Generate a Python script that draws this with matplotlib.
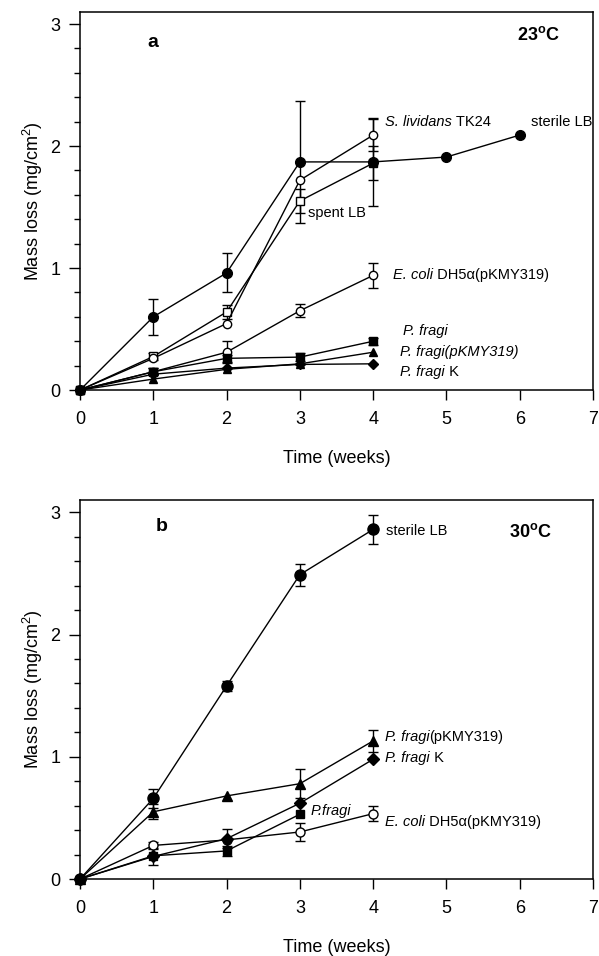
import numpy as np
import matplotlib
matplotlib.use("Agg")
import matplotlib.pyplot as plt
from matplotlib.ticker import MultipleLocator
from matplotlib.transforms import offset_copy

plt.rcParams['font.family'] = ['Liberation Sans', 'DejaVu Sans']
plt.rcParams['mathtext.fontset'] = 'custom'
plt.rcParams['mathtext.rm'] = 'Liberation Sans'
plt.rcParams['mathtext.bf'] = 'Liberation Sans:bold'

# ---- panel a, 23 C ----
a_sterile_t = [0, 1, 2, 3, 4, 5, 6]
a_sterile = [0, 0.60, 0.96, 1.87, 1.87, 1.91, 2.09]
a_sterile_err = [0, 0.15, 0.16, 0.50, 0.36, 0, 0]

a_lividans_t = [0, 1, 2, 3, 4]
a_lividans = [0, 0.26, 0.545, 1.72, 2.09]
a_lividans_err = [0, 0, 0, 0, 0.13]

a_spent_t = [0, 1, 2, 3, 4]
a_spent = [0, 0.275, 0.64, 1.55, 1.86]
a_spent_err = [0, 0.03, 0.06, 0.10, 0.14]

a_ecoli_t = [0, 1, 2, 3, 4]
a_ecoli = [0, 0.15, 0.31, 0.65, 0.94]
a_ecoli_err = [0, 0.03, 0.09, 0.055, 0.10]

a_fragi_t = [0, 1, 2, 3, 4]
a_fragi = [0, 0.15, 0.26, 0.27, 0.40]
a_fragi_err = [0, 0.03, 0.03, 0.03, 0.03]

a_fragi_p_t = [0, 1, 2, 3, 4]
a_fragi_p = [0, 0.09, 0.17, 0.215, 0.31]
a_fragi_p_err = [0, 0, 0, 0, 0]

a_fragi_k_t = [0, 1, 2, 3, 4]
a_fragi_k = [0, 0.13, 0.18, 0.21, 0.215]
a_fragi_k_err = [0, 0, 0, 0, 0]

# ---- panel b, 30 C ----
b_sterile_t = [0, 1, 2, 3, 4]
b_sterile = [0, 0.66, 1.58, 2.49, 2.86]
b_sterile_err = [0, 0.08, 0.04, 0.09, 0.12]

b_fragi_p_t = [0, 1, 2, 3, 4]
b_fragi_p = [0, 0.55, 0.68, 0.78, 1.13]
b_fragi_p_err = [0, 0.06, 0, 0.12, 0.09]

b_fragi_k_t = [0, 1, 2, 3, 4]
b_fragi_k = [0, 0.185, 0.33, 0.62, 0.98]
b_fragi_k_err = [0, 0.07, 0.08, 0, 0]

b_fragi_t = [0, 1, 2, 3]
b_fragi = [0, 0.19, 0.23, 0.53]
b_fragi_err = [0, 0, 0.04, 0]

b_ecoli_t = [0, 1, 2, 3, 4]
b_ecoli = [0, 0.275, 0.32, 0.385, 0.535]
b_ecoli_err = [0, 0.03, 0, 0.07, 0.06]

x_ticks = [0, 1, 2, 3, 4, 5, 6, 7]
y_ticks = [0, 1, 2, 3]


def series(ax, t, y, err, marker, filled, ms):
    t = np.array(t, dtype=float)
    y = np.array(y, dtype=float)
    err = np.array(err, dtype=float)
    m = err > 0
    if m.any():
        ax.errorbar(t[m], y[m], yerr=err[m], fmt='none', ecolor='black',
                    elinewidth=1.0, capsize=3.5, capthick=1.0, zorder=2)
    ax.plot(t, y, color='black', lw=1.0, marker=marker, ms=ms,
            mfc='black' if filled else 'white', mec='black', mew=1.0,
            zorder=3, clip_on=False)


def label(ax, x, y, parts, fs=10.5):
    # parts: list of (text, italic) drawn one after another
    fig = ax.figure
    r = fig.canvas.get_renderer()
    dx = 0.0
    for txt, it in parts:
        tr = offset_copy(ax.transData, fig=fig, x=dx, y=0, units='dots')
        t = ax.text(x, y, txt, fontsize=fs, va='center', ha='left',
                    fontstyle='italic' if it else 'normal', transform=tr)
        dx += t.get_window_extent(renderer=r).width


def style(ax):
    ax.set_xlim(0, 7)
    ax.set_ylim(0, 3.1)
    ax.set_xticks(x_ticks)
    ax.set_yticks(y_ticks)
    ax.yaxis.set_minor_locator(MultipleLocator(0.2))
    ax.tick_params(axis='x', which='major', direction='out', length=7,
                   width=1.0, labelsize=13, pad=8)
    ax.tick_params(axis='y', which='major', direction='out', length=8,
                   width=1.0, labelsize=13, pad=6)
    ax.tick_params(axis='y', which='minor', direction='out', length=4,
                   width=1.0)
    for s in ax.spines.values():
        s.set_linewidth(1.1)
    ax.set_xlabel('Time (weeks)', fontsize=13, labelpad=16)
    ax.set_ylabel('Mass loss (mg/cm$^2$)', fontsize=13, labelpad=4)


fig = plt.figure(figsize=(5.99, 9.56), dpi=100)
ax1 = fig.add_axes([0.1336, 0.592, 0.8564, 0.3956])
ax2 = fig.add_axes([0.1336, 0.0805, 0.8564, 0.3964])
for ax in (ax1, ax2):
    style(ax)

series(ax1, a_fragi_k_t, a_fragi_k, a_fragi_k_err, 'D', True, 5.5)
series(ax1, a_fragi_p_t, a_fragi_p, a_fragi_p_err, '^', True, 6)
series(ax1, a_ecoli_t, a_ecoli, a_ecoli_err, 'o', False, 6)
series(ax1, a_fragi_t, a_fragi, a_fragi_err, 's', True, 5.5)
series(ax1, a_spent_t, a_spent, a_spent_err, 's', False, 5.5)
series(ax1, a_lividans_t, a_lividans, a_lividans_err, 'o', False, 6)
series(ax1, a_sterile_t, a_sterile, a_sterile_err, 'o', True, 7)

ax1.text(1.0, 2.85, 'a', fontsize=14, fontweight='bold', ha='center', va='center')
ax1.text(6.55, 2.91, r'23$^{\mathbf{o}}$C', fontsize=13, fontweight='bold', ha='right', va='center')
label(ax1, 4.16, 2.20, [('S. lividans', True), (' TK24', False)])
label(ax1, 6.16, 2.20, [('sterile LB', False)])
label(ax1, 3.11, 1.45, [('spent LB', False)])
label(ax1, 4.27, 0.94, [('E. coli', True), (' DH5α(pKMY319)', False)])
label(ax1, 4.41, 0.48, [('P. fragi', True)])
label(ax1, 4.37, 0.31, [('P. fragi(pKMY319)', True)])
label(ax1, 4.37, 0.15, [('P. fragi', True), (' K', False)])

series(ax2, b_ecoli_t, b_ecoli, b_ecoli_err, 'o', False, 6.5)
series(ax2, b_fragi_t, b_fragi, b_fragi_err, 's', True, 5.5)
series(ax2, b_fragi_k_t, b_fragi_k, b_fragi_k_err, 'D', True, 6)
series(ax2, b_fragi_p_t, b_fragi_p, b_fragi_p_err, '^', True, 7)
series(ax2, b_sterile_t, b_sterile, b_sterile_err, 'o', True, 8)

ax2.text(1.11, 2.88, 'b', fontsize=14, fontweight='bold', ha='center', va='center')
ax2.text(6.14, 2.84, r'30$^{\mathbf{o}}$C', fontsize=13, fontweight='bold', ha='center', va='center')
label(ax2, 4.18, 2.85, [('sterile LB', False)])
label(ax2, 4.16, 1.16, [('P. fragi', True), ('(pKMY319)', False)])
label(ax2, 4.16, 0.99, [('P. fragi', True), (' K', False)])
label(ax2, 3.14, 0.56, [('P.fragi', True)])
label(ax2, 4.16, 0.47, [('E. coli', True), (' DH5α(pKMY319)', False)])

fig.savefig('out.png', dpi=100)
